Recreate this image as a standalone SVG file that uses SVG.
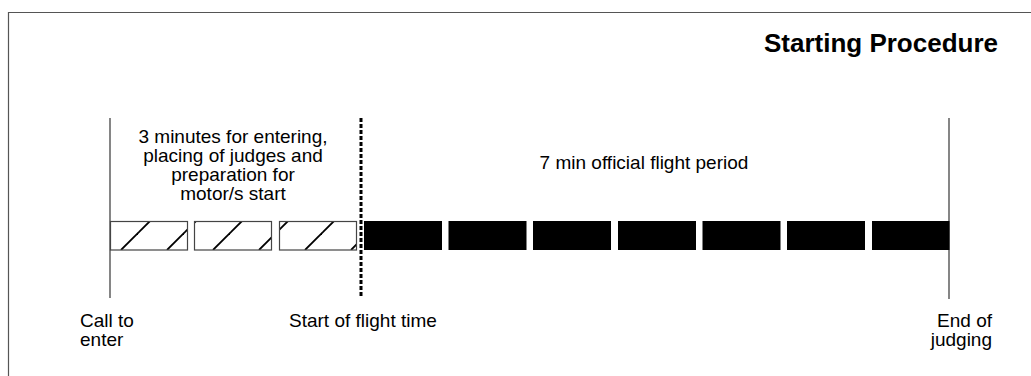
<svg xmlns="http://www.w3.org/2000/svg" width="1031" height="376" viewBox="0 0 1031 376">
<defs>
<style>
text{font-family:"Liberation Sans",Arial,sans-serif;font-size:19px;fill:#000}
.title{font-size:26px;font-weight:bold}
.mark{stroke:#444;stroke-width:1.3;fill:none}
.hatch{fill:url(#hatch);stroke:#444;stroke-width:1.2}
.bar{fill:#000}
</style>
<pattern id="hatch" patternUnits="userSpaceOnUse" x="0" y="221" width="46" height="29">
<rect width="46" height="29" fill="#fff"/>
<line x1="29" y1="29" x2="58" y2="0" stroke="#000" stroke-width="1.8"/>
<line x1="-17" y1="29" x2="12" y2="0" stroke="#000" stroke-width="1.8"/>
</pattern>
</defs>
<rect x="0" y="0" width="1031" height="376" fill="#fff"/>
<path d="M1031 12.5H8.5V376" fill="none" stroke="#555" stroke-width="1.2"/>
<text class="title" x="998" y="52" text-anchor="end">Starting Procedure</text>
<g id="connectors">
<line class="mark" x1="110" y1="118" x2="110" y2="298"/>
<line x1="361" y1="118" x2="361" y2="296" stroke="#000" stroke-width="3" stroke-dasharray="4 2"/>
<line class="mark" x1="949" y1="118" x2="949" y2="299"/>
</g>
<g id="prep">
<rect class="hatch" x="110.5" y="221.5" width="77" height="28.5"/>
<rect class="hatch" x="194.5" y="221.5" width="77" height="28.5"/>
<rect class="hatch" x="279.5" y="221.5" width="77" height="28.5"/>
</g>
<g id="flight">
<rect class="bar" x="364" y="221" width="78" height="29"/>
<rect class="bar" x="448.5" y="221" width="78" height="29"/>
<rect class="bar" x="533" y="221" width="78" height="29"/>
<rect class="bar" x="618" y="221" width="78" height="29"/>
<rect class="bar" x="702.5" y="221" width="78" height="29"/>
<rect class="bar" x="787" y="221" width="78" height="29"/>
<rect class="bar" x="872" y="221" width="77.5" height="29"/>
</g>
<g id="prep-label">
<text x="233" y="143" text-anchor="middle">3 minutes for entering,</text>
<text x="233" y="162" text-anchor="middle">placing of judges and</text>
<text x="233" y="181" text-anchor="middle">preparation for</text>
<text x="233" y="200" text-anchor="middle">motor/s start</text>
</g>
<g id="flight-label">
<text x="644" y="169" text-anchor="middle">7 min official flight period</text>
</g>
<g id="call">
<text x="80" y="327">Call to</text>
<text x="80" y="346">enter</text>
</g>
<g id="start">
<text x="289" y="327">Start of flight time</text>
</g>
<g id="end">
<text x="992" y="327" text-anchor="end">End of</text>
<text x="992" y="346" text-anchor="end">judging</text>
</g>
</svg>
